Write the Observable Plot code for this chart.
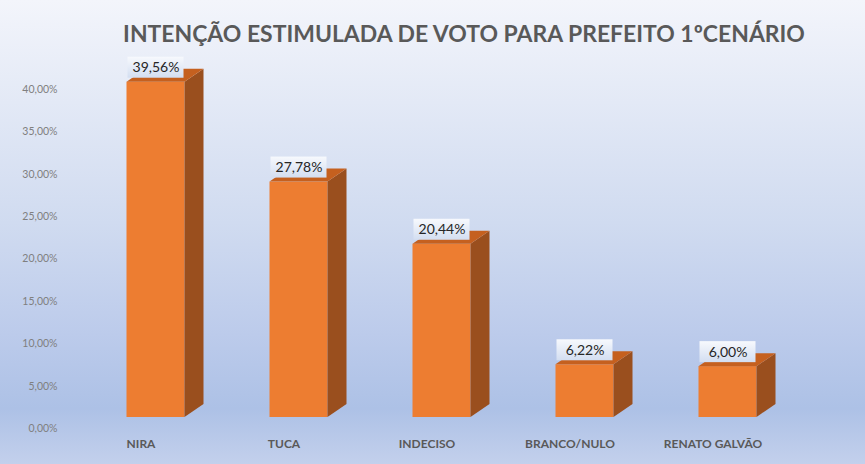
<!DOCTYPE html>
<html><head><meta charset="utf-8">
<script src="https://cdn.jsdelivr.net/npm/d3@7"></script>
<script src="https://cdn.jsdelivr.net/npm/@observablehq/plot@0.6"></script>
<style>
html,body{margin:0;padding:0;background:#fff;}
#chart{position:relative;width:865px;height:464px;overflow:hidden;font-family:Lato,"Open Sans",sans-serif;
  background:linear-gradient(to bottom,#f3f5fb 0%,#e3e9f6 22%,#d0dbf0 48%,#bccbeb 72%,#adc1e6 88%,#c3d0ec 100%);}
#title{height:55px;position:relative;}
#title span{position:absolute;left:464px;top:33px;transform:translate(-50%,-50%);white-space:nowrap;font-weight:700;font-size:24px;color:#595959;}
#chart svg{display:block;}
</style></head>
<body>
<div id="chart"><div id="title"><span id="t">INTENÇÃO ESTIMULADA DE VOTO PARA PREFEITO 1ºCENÁRIO</span></div></div>
<script>
const categories = ["NIRA", "TUCA", "INDECISO", "BRANCO/NULO", "RENATO GALVÃO"];
const values = [39.56, 27.78, 20.44, 6.22, 6.00];
const valueLabels = ["39,56%", "27,78%", "20,44%", "6,22%", "6,00%"];
const yTicks = [0, 5, 10, 15, 20, 25, 30, 35, 40];
const yTickLabels = ["0,00%", "5,00%", "10,00%", "15,00%", "20,00%", "25,00%", "30,00%", "35,00%", "40,00%"];

const data = categories.map((c, i) => ({cat: c, value: values[i], label: valueLabels[i]}));

// title fit
const t = document.getElementById("t");
const w0 = t.getBoundingClientRect().width;
t.style.fontSize = (24 * 682 / w0) + "px";

const INSET = 42.5, FLOOR = -11, DX = 19, DY = -13;

const plot = Plot.plot({
  width: 865, height: 409,
  marginLeft: 84, marginRight: 66, marginTop: 34, marginBottom: 36,
  style: {background: "transparent", fontFamily: "Lato, 'Open Sans', sans-serif", overflow: "visible"},
  x: {domain: categories, padding: 0},
  y: {domain: [0, 40]},
  marks: [
    Plot.axisY({ticks: yTicks, tickFormat: d => yTickLabels[yTicks.indexOf(d)], tickSize: 0, tickPadding: 27, fontSize: 10.5, fill: "#7f7f7f", label: null}),
    Plot.axisX({tickSize: 0, tickPadding: 11, dx: -15, fontSize: 12, fontWeight: "bold", fill: "#595959", label: null}),
    Plot.barY(data, {x: "cat", y: "value", fill: "#ED7D31", insetLeft: INSET, insetRight: INSET, dy: FLOOR}),
    Plot.text(data, {x: "cat", y: "value", text: "label", dy: -25.5, fontSize: 14, fill: "#262626"})
  ]
});
document.getElementById("chart").appendChild(plot);

const xs = plot.scale("x"), ys = plot.scale("y");
const bw = xs.bandwidth;
const svg = d3.select(plot);
const defs = svg.append("defs");
const lg = defs.append("linearGradient").attr("id", "boxg").attr("x1", 0).attr("y1", 0).attr("x2", 0).attr("y2", 1);
lg.append("stop").attr("offset", "0%").attr("stop-color", "#f7f9fd");
lg.append("stop").attr("offset", "100%").attr("stop-color", "#d3def1");
const g = svg.append("g");
data.forEach(d => {
  const x0 = xs.apply(d.cat) + INSET;
  const x1 = xs.apply(d.cat) + bw - INSET;
  const yt = ys.apply(d.value) + FLOOR;
  const yb = ys.apply(0) + FLOOR;
  g.append("polygon").attr("points", [[x1, yb], [x1 + DX, yb + DY], [x1 + DX, yt + DY], [x1, yt]].join(" ")).attr("fill", "#9a4f1e");
  g.append("polygon").attr("points", [[x0, yt], [x0 + DX, yt + DY], [x1 + DX, yt + DY], [x1, yt]].join(" ")).attr("fill", "#c5601f");
  const cx = xs.apply(d.cat) + bw / 2;
  const cy = ys.apply(d.value) - 25.5;
  g.append("rect").attr("x", cx - 28).attr("y", cy - 10.5).attr("width", 56).attr("height", 21).attr("fill", "url(#boxg)");
});
svg.selectAll('g[aria-label="text"]').raise();
</script>
</body></html>
